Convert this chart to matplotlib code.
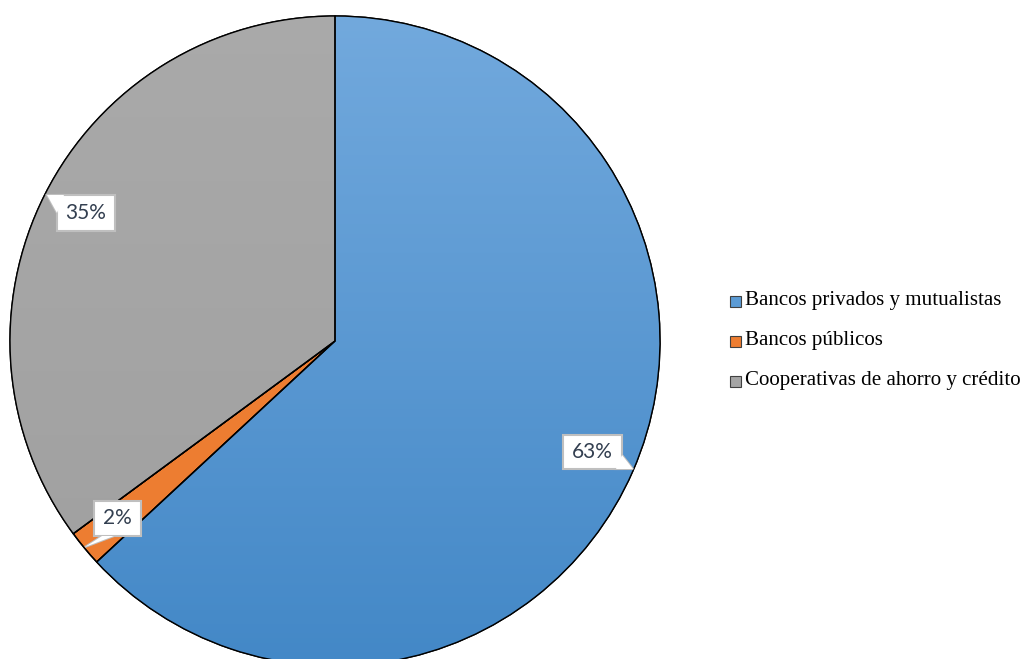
import numpy as np
import matplotlib
matplotlib.use("Agg")
import matplotlib.pyplot as plt
from matplotlib.patches import Polygon, Rectangle, Wedge
from matplotlib.colors import LinearSegmentedColormap

categories = ["Bancos privados y mutualistas", "Bancos públicos", "Cooperativas de ahorro y crédito"]
values = [63.1, 1.8, 35.1]
labels = ["63%", "2%", "35%"]

W, H = 1027, 659
fig = plt.figure(figsize=(W / 100, H / 100), dpi=100)
ax = fig.add_axes([0, 0, 1, 1])

def Y(y):
    return H - y

cx, cy, R = 335, Y(341), 325
wedges, _ = ax.pie(values, startangle=90, counterclock=False, center=(cx, cy), radius=R,
                   colors=["#5b9bd5", "#ed7d31", "#a5a5a5"],
                   wedgeprops=dict(edgecolor="black", linewidth=1.0), frame=True)

grads = [((0.447, 0.663, 0.867), (0.263, 0.533, 0.780)),
         None,
         ((0.665, 0.665, 0.665), (0.625, 0.625, 0.625))]
for w, g in zip(wedges, grads):
    if g is None:
        continue
    top, bot = g
    cmap = LinearSegmentedColormap.from_list("g", [bot, top])
    grad = np.linspace(0, 1, 256).reshape(-1, 1)
    im = ax.imshow(grad, cmap=cmap, origin="lower", aspect="auto",
                   extent=(cx - R, cx + R, cy - R, cy + R), zorder=w.get_zorder() + 0.1)
    im.set_clip_path(w)
for w in wedges:
    ax.add_patch(Wedge(w.center, w.r, w.theta1, w.theta2, fill=False,
                       edgecolor="black", linewidth=1.0, zorder=w.get_zorder() + 0.2))

ax.set_xlim(0, W)
ax.set_ylim(0, H)
ax.set_aspect("equal")
ax.axis("off")

# callout labels: (box x0, y0, x1, y1 in pixel coords, tail polygon points)
callouts = [
    (labels[0], (563, 435, 622, 469), [(622, 455), (633, 469), (616, 469)]),
    (labels[1], (94, 501, 141, 536), [(114, 536), (85, 547), (102, 536)]),
    (labels[2], (57, 195, 115, 231), [(57, 213), (47, 195), (64, 195)]),
]
for txt, (x0, y0, x1, y1), tail in callouts:
    rect = Rectangle((x0, Y(y1)), x1 - x0, y1 - y0, facecolor="white",
                     edgecolor="#bfbfbf", linewidth=1.5, zorder=10)
    ax.add_patch(rect)
    tp = Polygon([(px, Y(py)) for px, py in tail], closed=True, facecolor="white",
                 edgecolor="#bfbfbf", linewidth=1.5, zorder=9)
    ax.add_patch(tp)
    tp2 = Polygon([(px, Y(py)) for px, py in tail], closed=True, facecolor="white",
                  edgecolor="none", zorder=11)
    ax.add_patch(tp2)
    ax.text((x0 + x1) / 2, Y((y0 + y1) / 2), txt, ha="center", va="center",
            fontsize=15, color="#333f50", family="Lato", zorder=12)

# legend
leg_colors = ["#5b9bd5", "#ed7d31", "#a5a5a5"]
leg_y = [301, 341, 381]
for c, name, yy in zip(leg_colors, categories, leg_y):
    ax.add_patch(Rectangle((730, Y(yy + 5.5)), 11, 11, facecolor=c, edgecolor="#404040",
                           linewidth=0.8, zorder=10))
    ax.text(745, Y(yy), name, ha="left", va="center", fontsize=15.1,
            family="Liberation Serif", color="black")

fig.savefig("out.png", dpi=100)
